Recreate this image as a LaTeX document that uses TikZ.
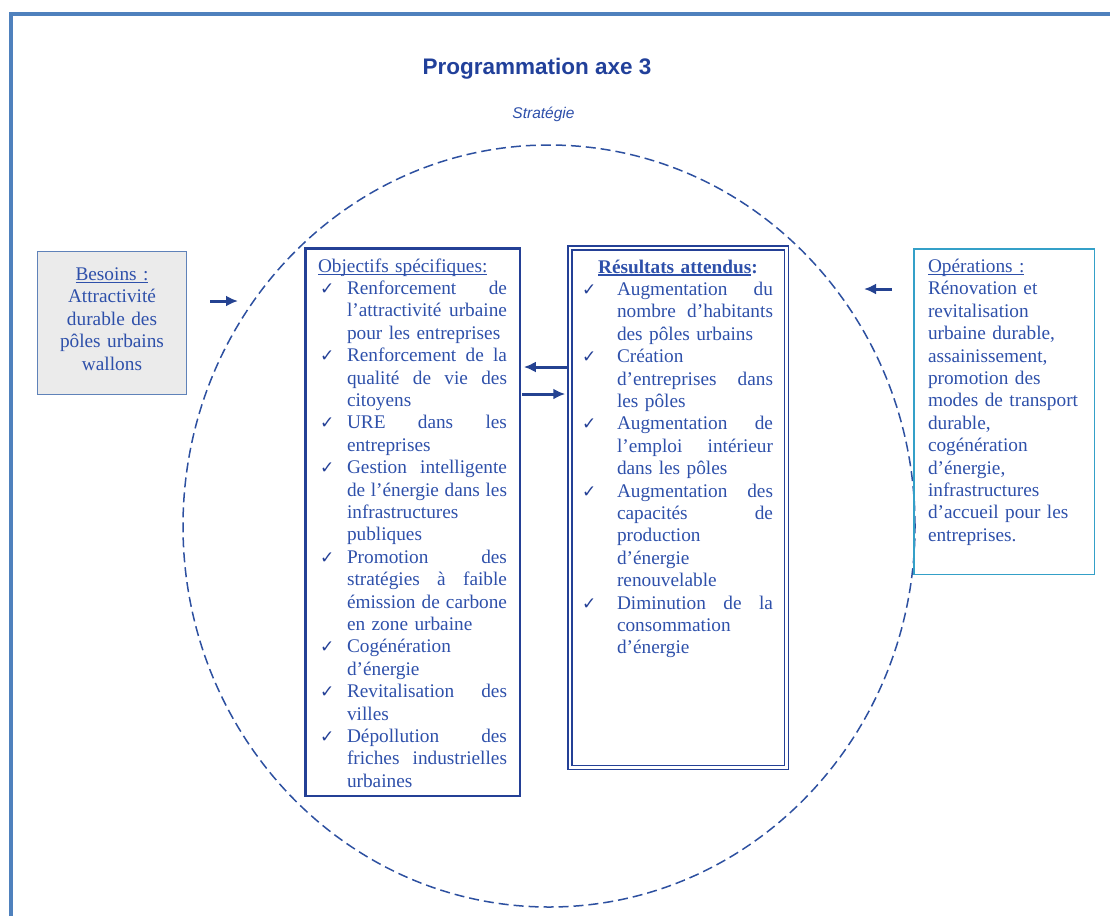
\documentclass[tikz,border=0pt]{standalone}
\usepackage{fontspec}
\setmainfont{Liberation Serif}
\newfontfamily\headfont{Liberation Sans}
\newfontfamily\tickfont{DejaVu Sans}
\usetikzlibrary{arrows.meta}

\definecolor{framecol}{RGB}{79,129,189}
\definecolor{titleblue}{RGB}{33,64,154}
\definecolor{txtblue}{RGB}{46,80,170}
\definecolor{boxblue}{RGB}{36,64,150}
\definecolor{arrowblue}{RGB}{36,66,145}
\definecolor{opsline}{RGB}{52,160,200}
\definecolor{needfill}{RGB}{235,235,235}
\definecolor{needline}{RGB}{95,130,185}
\definecolor{ellcol}{RGB}{45,80,160}

\newlength\txw
\newlength\ckw
\newsavebox\ulbox
\newcommand\uln[2][1pt]{\sbox\ulbox{#2}\rlap{\rule[-2.6pt]{\wd\ulbox}{#1}}\usebox\ulbox}
\newcommand\chk{{\color{boxblue}\tickfont\fontsize{17}{17}\selectfont ✓}}
\newcommand\jline[2]{\hbox{\hbox to\ckw{#1\hss}\hbox to\txw{\spaceskip=.25em plus 1fil\relax #2}}}
\newcommand\rline[2]{\hbox{\hbox to\ckw{#1\hss}#2}}

\begin{document}
\begin{tikzpicture}[x=1pt, y=-1pt,
    bodytext/.style={font=\fontsize{19.3}{22.4}\selectfont, text=txtblue, outer sep=0pt, text height=15pt},
    needbox/.style={bodytext, draw=needline, fill=needfill, line width=1pt, align=center},
    objbox/.style={bodytext, draw=boxblue, line width=2.6pt},
    resbox/.style={bodytext, draw=boxblue, line width=1.5pt, double=white, double distance=2.5pt},
    opsbox/.style={bodytext, draw=opsline, line width=1.5pt, align=left},
    flow/.style={-{Latex[length=12pt,width=11pt]}, line width=3pt, draw=arrowblue},
    titletext/.style={font=\headfont\bfseries\fontsize{22.5}{26}\selectfont, text=titleblue},
    subtext/.style={font=\headfont\itshape\fontsize{15.5}{18}\selectfont, text=txtblue}]
    \useasboundingbox (0,0) rectangle (1110,916);

    % page frame
    \draw[framecol, line width=4pt] (11,916) -- (11,13.8) -- (1110,13.8);

    % titles
    \node[titletext, anchor=base] (titre) at (537,74.3) {Programmation axe 3};
    \node[subtext, anchor=base] (strategie) at (543.5,118.5) {Stratégie};

    % strategy ellipse
    \draw[ellcol, line width=1.5pt, dash pattern=on 10pt off 5pt] (549,526) ellipse [x radius=366pt, y radius=381pt];

    % needs
    \node[needbox, anchor=north west, text width=137pt, text depth=100pt, inner xsep=6pt, inner ysep=14pt] (besoins) at (37.5,251.5)
      {\uln{Besoins :}\\Attractivité\\durable des\\pôles urbains\\wallons};

    % specific objectives
    \node[objbox, anchor=north west, text width=189pt, text depth=515pt, inner xsep=12.8pt, inner ysep=8.8pt] (objectifs) at (305.2,248.2) {%
      \setlength\txw{160pt}\setlength\ckw{29pt}%
      \hbox{\uln{Objectifs spécifiques:}}
      \jline{\hskip2pt\chk}{Renforcement de}
      \jline{}{l'attractivité urbaine}
      \rline{}{pour les entreprises}
      \jline{\hskip2pt\chk}{Renforcement de la}
      \jline{}{qualité de vie des}
      \rline{}{citoyens}
      \jline{\hskip2pt\chk}{URE dans les}
      \rline{}{entreprises}
      \jline{\hskip2pt\chk}{Gestion intelligente}
      \jline{}{de l'énergie dans les}
      \rline{}{infrastructures}
      \rline{}{publiques}
      \jline{\hskip2pt\chk}{Promotion des}
      \jline{}{stratégies à faible}
      \jline{}{émission de carbone}
      \rline{}{en zone urbaine}
      \rline{\hskip2pt\chk}{Cogénération}
      \rline{}{d'énergie}
      \jline{\hskip2pt\chk}{Revitalisation des}
      \rline{}{villes}
      \jline{\hskip2pt\chk}{Dépollution des}
      \jline{}{friches industrielles}
      \rline{}{urbaines}};

    % expected results
    \node[resbox, anchor=north west, text width=192pt, text depth=483.8pt, inner xsep=12.25pt, inner ysep=10.35pt] (resultats) at (569.75,247.75) {%
      \setlength\txw{156pt}\setlength\ckw{35pt}%
      \hbox to\linewidth{\hss\bfseries\uln[1.6pt]{Résultats attendus}:\hss}
      \jline{\chk}{Augmentation du}
      \jline{}{nombre d'habitants}
      \rline{}{des pôles urbains}
      \rline{\chk}{Création}
      \jline{}{d'entreprises dans}
      \rline{}{les pôles}
      \jline{\chk}{Augmentation de}
      \jline{}{l'emploi intérieur}
      \rline{}{dans les pôles}
      \jline{\chk}{Augmentation des}
      \jline{}{capacités de}
      \rline{}{production}
      \rline{}{d'énergie}
      \rline{}{renouvelable}
      \jline{\chk}{Diminution de la}
      \rline{}{consommation}
      \rline{}{d'énergie}};

    % operations
    \node[opsbox, anchor=north west, text width=152pt, text depth=293pt, inner xsep=14.25pt, inner ysep=8.75pt] (operations) at (913.75,248.75)
      {\uln{Opérations :}\\Rénovation et\\revitalisation\\urbaine durable,\\assainissement,\\promotion des\\modes de transport\\durable,\\cogénération\\d'énergie,\\infrastructures\\d'accueil pour les\\entreprises.};

    % arrows
    \coordinate (stratW) at (238,301);
    \coordinate (stratE) at (864,289);
    \draw[flow, shorten <=23.5pt] (besoins.east |- stratW) -- (stratW);
    \draw[flow, shorten <=21.75pt] (operations.west |- stratE) -- (stratE);
    \draw[flow, shorten <=3pt, shorten >=4pt] (resultats.west |- 0,367) -- (objectifs.east |- 0,367);
    \draw[flow, shorten <=2pt, shorten >=4.5pt] (objectifs.east |- 0,394) -- (resultats.west |- 0,394);
\end{tikzpicture}
\end{document}
